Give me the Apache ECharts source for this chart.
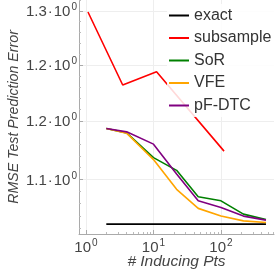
<!DOCTYPE html>
<html><head><meta charset="utf-8">
<script src="https://cdn.jsdelivr.net/npm/echarts@6.0.0/dist/echarts.min.js"></script>
<style>html,body{margin:0;padding:0;background:#fff}#c{width:276px;height:276px}</style>
</head><body><div id="c"></div>
<script>
const inducingPts = [2, 4, 10, 22, 46, 100, 215, 464];
const exactX = [2, 464];
const exactY = [1.1133, 1.1133];
const subsampleX = [1.07, 3.5, 11.1, 111];
const subsampleY = [1.2991, 1.2319, 1.2439, 1.1740];
const sorY = [1.1935, 1.1897, 1.1685, 1.1577, 1.1357, 1.1323, 1.1214, 1.1171];
const vfeY = [1.1935, 1.1895, 1.1668, 1.1418, 1.1261, 1.1198, 1.1159, 1.1146];
const pfdtcY = [1.1935, 1.1906, 1.1800, 1.1547, 1.1323, 1.1269, 1.1198, 1.1165];
const seriesNames = ['exact', 'subsample', 'SoR', 'VFE', 'pF-DTC'];
const xTickValues = [1, 10, 100];
const xTickMantissa = ['10', '10', '10'];
const xTickExponent = ['0', '1', '2'];
const xMinorTicks = [2,3,4,5,6,7,8,9,20,30,40,50,60,70,80,90,200,300,400,500,600];
const yTickValues = [1.15, 1.2, 1.25, 1.3];
const yTickMantissa = ['1.1', '1.2', '1.2', '1.3'];
const yTickExponent = ['0', '0', '0', '0'];
const yMinorTicks = [1.11,1.12,1.13,1.14,1.16,1.17,1.18,1.19,1.21,1.22,1.23,1.24,1.26,1.27,1.28,1.29,1.31];

const colors = ['#000000', '#ff0000', '#008000', '#ffa500', '#800080'];
const zip = (xs, ys) => xs.map((x, i) => [x, ys[i]]);
const seriesData = [
  zip(exactX, exactY),
  zip(subsampleX, subsampleY),
  zip(inducingPts, sorY),
  zip(inducingPts, vfeY),
  zip(inducingPts, pfdtcY)
];
const font = 'Liberation Sans';
const XMIN = 0.788, XMAX = 610, YMIN = 1.1053, YMAX = 1.3105;
const findIdx = (vals, v) => vals.findIndex(t => Math.abs(t - v) < 1e-6 * Math.max(1, t));
const chart = echarts.init(document.getElementById('c'), null, {renderer: 'canvas'});
chart.setOption({
  animation: false,
  backgroundColor: '#fff',
  grid: {left: 79, right: 2, top: 0, bottom: 42, containLabel: false, outerBoundsMode: 'none'},
  legend: {
    orient: 'vertical', left: 167, top: 4,
    padding: [3, 4, 3, 2],
    backgroundColor: 'rgba(255,255,255,0.85)',
    icon: 'rect', itemWidth: 20, itemHeight: 2, itemGap: 5.5,
    data: seriesNames,
    textStyle: {fontFamily: font, fontSize: 16, color: '#333', lineHeight: 17}
  },
  xAxis: [{
    type: 'log', min: XMIN, max: XMAX,
    name: '# Inducing Pts', nameLocation: 'middle', nameGap: 20, nameMoveOverlap: false,
    nameTextStyle: {fontFamily: font, fontSize: 15.5, fontStyle: 'italic', color: '#444'},
    axisLine: {show: true, lineStyle: {color: '#aaa', width: 1}},
    axisTick: {show: true, inside: true, length: 4, customValues: xTickValues, lineStyle: {color: '#aaa'}},
    axisLabel: {
      customValues: xTickValues, margin: 4,
      formatter: v => { const i = findIdx(xTickValues, v); return i < 0 ? '' : '{m|' + xTickMantissa[i] + '}{s|' + xTickExponent[i] + '}'; },
      rich: {
        m: {fontFamily: font, fontSize: 15, color: '#444', verticalAlign: 'bottom'},
        s: {fontFamily: font, fontSize: 10, color: '#444', verticalAlign: 'bottom', padding: [0, 0, 7, 1]}
      },
      showMinLabel: true, showMaxLabel: true
    },
    splitLine: {show: true, lineStyle: {color: '#eeeeee', width: 1}}
  }, {
    type: 'log', min: XMIN, max: XMAX, position: 'bottom', gridIndex: 0,
    axisLine: {show: false},
    axisTick: {show: true, inside: true, length: 2, customValues: xMinorTicks, lineStyle: {color: '#bbb'}},
    axisLabel: {show: false, customValues: xMinorTicks},
    splitLine: {show: false}
  }],
  yAxis: [{
    type: 'log', min: YMIN, max: YMAX,
    name: 'RMSE Test Prediction Error', nameLocation: 'middle', nameGap: 58, nameMoveOverlap: false,
    nameTextStyle: {fontFamily: font, fontSize: 14.2, fontStyle: 'italic', color: '#444'},
    axisLine: {show: true, lineStyle: {color: '#aaa', width: 1}},
    axisTick: {show: true, inside: true, length: 4, customValues: yTickValues, lineStyle: {color: '#aaa'}},
    axisLabel: {
      customValues: yTickValues, margin: 2,
      formatter: v => { const i = findIdx(yTickValues, v); return i < 0 ? '' : '{m|' + yTickMantissa[i] + '}{d|·}{m|10}{s|' + yTickExponent[i] + '}'; },
      rich: {
        m: {fontFamily: font, fontSize: 15, color: '#444', verticalAlign: 'bottom'},
        d: {fontFamily: font, fontSize: 15, color: '#444', verticalAlign: 'bottom', padding: [0, 1, 0, 1]},
        s: {fontFamily: font, fontSize: 10, color: '#444', verticalAlign: 'bottom', padding: [0, 0, 7, 1]}
      },
      showMinLabel: true, showMaxLabel: true
    },
    splitLine: {show: true, lineStyle: {color: '#eeeeee', width: 1}}
  }, {
    type: 'log', min: YMIN, max: YMAX, position: 'left', gridIndex: 0,
    axisLine: {show: false},
    axisTick: {show: true, inside: true, length: 2, customValues: yMinorTicks, lineStyle: {color: '#bbb'}},
    axisLabel: {show: false, customValues: yMinorTicks},
    splitLine: {show: false}
  }],
  series: seriesNames.map((n, i) => ({
    name: n, type: 'line', data: seriesData[i],
    xAxisIndex: 0, yAxisIndex: 0,
    showSymbol: false, symbol: 'none',
    lineStyle: {color: colors[i], width: 1.6},
    itemStyle: {color: colors[i]},
    z: 2 + i
  }))
});
</script></body></html>
